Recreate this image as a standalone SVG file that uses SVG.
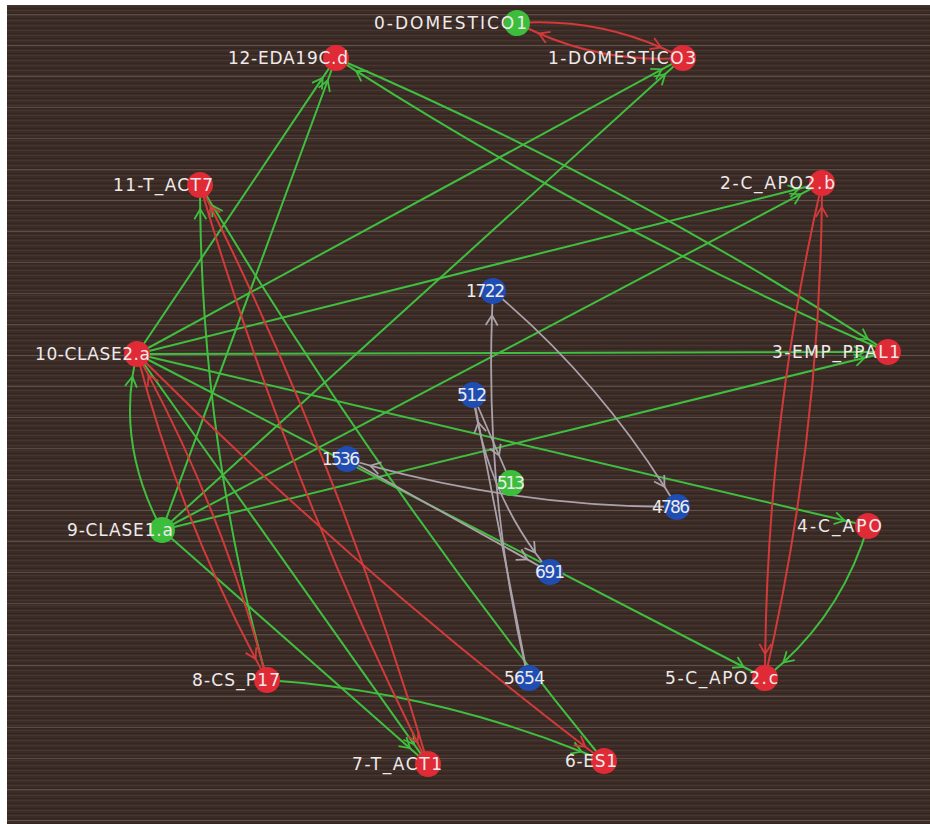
<svg xmlns="http://www.w3.org/2000/svg" width="930" height="824" viewBox="0 0 930 824">
<defs>
<pattern id="scan" width="8" height="5" patternUnits="userSpaceOnUse">
<rect width="8" height="5" fill="#3c2c28"/>
<rect y="0" width="8" height="1" fill="#47362f"/>
<rect y="3" width="8" height="1" fill="#34251f"/>
</pattern>
<pattern id="streak" width="930" height="31" patternUnits="userSpaceOnUse">
<rect y="14" width="930" height="1" fill="#8a7c78" opacity="0.4"/>
</pattern>
<marker id="ag" viewBox="-12 -8 14 16" refX="0" refY="0" markerWidth="14" markerHeight="16" markerUnits="userSpaceOnUse" orient="auto">
<path d="M-10,-6 L0,0 L-10,6" fill="none" stroke="#3fbf3f" stroke-width="1.8"/>
</marker>
<marker id="ar" viewBox="-12 -8 14 16" refX="0" refY="0" markerWidth="14" markerHeight="16" markerUnits="userSpaceOnUse" orient="auto">
<path d="M-10,-6 L0,0 L-10,6" fill="none" stroke="#d23a3a" stroke-width="1.8"/>
</marker>
<marker id="aw" viewBox="-12 -8 14 16" refX="0" refY="0" markerWidth="14" markerHeight="16" markerUnits="userSpaceOnUse" orient="auto">
<path d="M-10,-6 L0,0 L-10,6" fill="none" stroke="#aaa2aa" stroke-width="1.8"/>
</marker>
</defs>
<style>
.g{fill:none;stroke:#3fbf3f;stroke-width:2;marker-mid:url(#ag)}
.r{fill:none;stroke:#d23a3a;stroke-width:2;marker-mid:url(#ar)}
.w{fill:none;stroke:#aaa2aa;stroke-width:1.8;marker-mid:url(#aw)}
.nr{fill:#e02a36}
.ng{fill:#3cbd3c}
.nb{fill:#1f4db2}
text{font-family:"DejaVu Sans","Liberation Sans",sans-serif;font-size:17px;fill:#eeeaea;text-anchor:end}
</style>
<rect width="930" height="824" fill="#ffffff"/>
<rect x="7" y="5" width="923" height="819" fill="url(#scan)"/>
<rect x="7" y="5" width="923" height="819" fill="url(#streak)"/>

<g id="edges">
<path class="g" d="M137,354 L322.6,77.9 L336,58"/>
<path class="g" d="M162,530 L327.7,80.5 L336,58"/>
<path class="g" d="M137,354 L661.9,69.4 L683,58"/>
<path class="g" d="M162,530 L665.2,74.1 L683,58"/>
<path class="g" d="M137,354 L798.7,188.8 L822,183"/>
<path class="g" d="M162,530 L800.8,194.2 L822,183"/>
<path class="g" d="M137,354 L864,352.1 L888,352"/>
<path class="g" d="M162,530 L864.7,357.7 L888,352"/>
<path class="g" d="M137,354 L844.6,520.5 L868,526"/>
<path class="g" d="M137,354 L743.7,667 L765,678"/>
<path class="g" d="M162,530 L410,748.2 L428,764"/>
<path class="g" d="M137,354 L414.1,744.4 L428,764"/>
<path class="g" d="M336,58 Q613.2,177.3 867.9,339.1 Q878,345.5 888,352"/>
<path class="g" d="M888,352 Q610.8,232.7 356.1,70.9 Q346,64.5 336,58"/>
<path class="g" d="M868,526 Q844,606.7 783.3,662.5 Q774.5,670.5 765,678"/>
<path class="g" d="M267,680 Q429.9,691.2 581.6,751.7 Q592.8,756.2 604,761"/>
<path class="g" d="M162,530 Q121.1,453.4 132.4,376.8 Q134.1,365.4 137,354"/>
<path class="g" d="M267,680 Q203.2,448.7 200.2,209.2 Q200,197.1 200,185"/>
<path class="g" d="M604,761 Q388.6,497.3 212.4,205.6 Q206.2,195.3 200,185"/>
<path class="r" d="M517,23 Q592.6,17.8 661,47.5 Q672.1,52.3 683,58"/>
<path class="r" d="M683,58 Q607.4,63.2 539,33.5 Q527.9,28.7 517,23"/>
<path class="r" d="M137,354 Q178.6,513.5 255.6,658.9 Q261.2,669.5 267,680"/>
<path class="r" d="M267,680 Q225.4,520.5 148.4,375.1 Q142.8,364.5 137,354"/>
<path class="r" d="M200,185 Q284.7,473.3 417.5,742.8 Q422.7,753.4 428,764"/>
<path class="r" d="M428,764 Q343.3,475.7 210.5,206.2 Q205.3,195.6 200,185"/>
<path class="r" d="M137,354 Q348.3,565 585.2,746.7 Q594.6,753.9 604,761"/>
<path class="r" d="M822,183 Q768.4,415.6 765.2,654 Q765,666 765,678"/>
<path class="r" d="M765,678 Q818.6,445.4 821.8,207 Q822,195 822,183"/>
<path class="w" d="M528,678 Q485.4,498.8 492,315.3 Q492.4,303.2 493,291"/>
<path class="w" d="M493,291 Q594.1,375.7 664.5,486.7 Q670.9,496.7 677,507"/>
<path class="w" d="M473,395 L499.1,455.5 L511,483"/>
<path class="w" d="M528,678 L478.3,422.5 L473,395"/>
<path class="w" d="M347,459 L527.3,559.4 L550,572"/>
<path class="w" d="M677,507 Q520.6,506.8 370.3,465.6 Q358.6,462.4 347,459"/>
<path class="w" d="M473,395 Q484.7,482.3 535.1,552.6 Q542.2,562.5 550,572"/>
</g>

<g id="n0"><circle class="ng" cx="517" cy="23" r="13"/><text x="527" y="29" textLength="153">0-DOMESTICO1</text></g>
<g id="n1"><circle class="nr" cx="683" cy="58" r="13"/><text x="696" y="64" textLength="148">1-DOMESTICO3</text></g>
<g id="n2"><circle class="nr" cx="822" cy="183" r="13"/><text x="835" y="189" textLength="115">2-C_APO2.b</text></g>
<g id="n3"><circle class="nr" cx="888" cy="352" r="13"/><text x="900" y="358" textLength="128">3-EMP_PPAL1</text></g>
<g id="n4"><circle class="nr" cx="868" cy="526" r="13"/><text x="882" y="532" textLength="85">4-C_APO</text></g>
<g id="n5"><circle class="nr" cx="765" cy="678" r="13"/><text x="778" y="684" textLength="113">5-C_APO2.c</text></g>
<g id="n6"><circle class="nr" cx="604" cy="761" r="13"/><text x="617" y="767" textLength="52">6-ES1</text></g>
<g id="n7"><circle class="nr" cx="428" cy="764" r="13"/><text x="442" y="770" textLength="90">7-T_ACT1</text></g>
<g id="n8"><circle class="nr" cx="267" cy="680" r="13"/><text x="280" y="686" textLength="88">8-CS_P17</text></g>
<g id="n9"><circle class="ng" cx="162" cy="530" r="13"/><text x="173" y="536" textLength="106">9-CLASE1.a</text></g>
<g id="n10"><circle class="nr" cx="137" cy="354" r="13"/><text x="150" y="360" textLength="115">10-CLASE2.a</text></g>
<g id="n11"><circle class="nr" cx="200" cy="185" r="13"/><text x="213" y="191" textLength="100">11-T_ACT7</text></g>
<g id="n12"><circle class="nr" cx="336" cy="58" r="13"/><text x="348" y="64" textLength="120">12-EDA19C.d</text></g>
<g id="n1722"><circle class="nb" cx="493" cy="291" r="13"/><text x="505" y="297" textLength="39">1722</text></g>
<g id="n512"><circle class="nb" cx="473" cy="395" r="13"/><text x="487" y="401" textLength="30">512</text></g>
<g id="n1536"><circle class="nb" cx="347" cy="459" r="13"/><text x="360" y="465" textLength="38">1536</text></g>
<g id="n513"><circle class="ng" cx="511" cy="483" r="13"/><text x="525" y="489" textLength="28">513</text></g>
<g id="n4786"><circle class="nb" cx="677" cy="507" r="13"/><text x="690" y="513" textLength="38">4786</text></g>
<g id="n691"><circle class="nb" cx="550" cy="572" r="13"/><text x="565" y="578" textLength="30">691</text></g>
<g id="n5654"><circle class="nb" cx="529" cy="678" r="13"/><text x="545" y="684" textLength="41">5654</text></g>
</svg>
